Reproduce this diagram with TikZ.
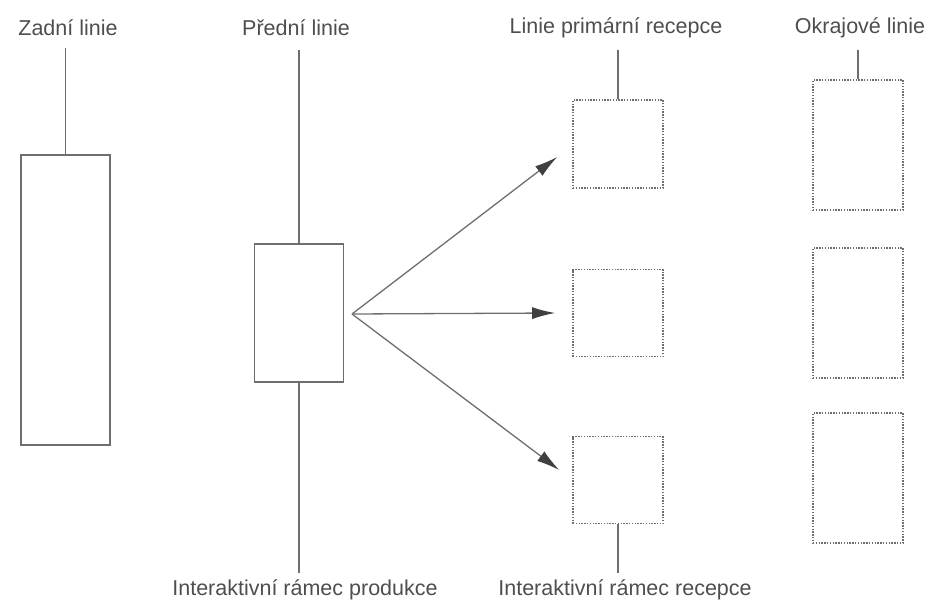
\documentclass[tikz,border=0pt]{standalone}
\usepackage{fontspec}
\setmainfont{Liberation Sans}
\usetikzlibrary{arrows.meta}
\definecolor{cara}{HTML}{6E6E6E}
\definecolor{hrot}{HTML}{404040}
\definecolor{pismo}{HTML}{4E4E4E}
\begin{document}
\begin{tikzpicture}[x=1pt, y=-1pt,
    ramec/.style={draw=cara, line width=1.3pt, inner sep=0pt, minimum width=89pt},
    tecky/.style={ramec, dash pattern=on 1.4pt off 1.4pt, line width=1.6pt, minimum width=90pt},
    popis/.style={text=pismo, inner sep=0pt, font=\fontsize{21.5}{25}\selectfont},
    spoj/.style={draw=cara, line width=1.3pt},
    sipka/.style={spoj, -{Latex[length=23pt, width=12pt, color=hrot]}}]
  \useasboundingbox (0,0) rectangle (925,604);
  % popisky nahore a dole
  \node[popis] (zadni) at (68,28) {Zadní linie};
  \node[popis] (predni) at (296,28) {Přední linie};
  \node[popis] (primarni) at (616,28) {Linie primární recepce};
  \node[popis] (okrajove) at (860,28) {Okrajové linie};
  \node[popis] (produkce) at (305,590) {Interaktivní rámec produkce};
  \node[popis] (recepce) at (625,590) {Interaktivní rámec recepce};
  % ramce
  \node[ramec, minimum height=290pt] (zadniBox) at (65.5,300) {};
  \node[ramec, minimum height=138pt] (predniBox) at (299,313) {};
  \foreach \y/\h/\n in {144/88/a, 313/87/b, 480/87/c}{
    \node[tecky, minimum height=\h pt] (prim\n) at (618,\y) {};
  }
  \foreach \y/\n in {145/a, 313/b, 478/c}{
    \node[tecky, minimum height=130pt] (okraj\n) at (858,\y) {};
  }
  % konce car
  \coordinate (zadniTop) at (65.5,48);
  \coordinate (predniTop) at (299,50);
  \coordinate (predniBot) at (299,573);
  \coordinate (primTop) at (618,50);
  \coordinate (primBot) at (618,573);
  \coordinate (okrajTop) at (858,50);
  \coordinate (zdroj) at (352,314);
  \path[spoj] (zadniTop) -- (zadniBox.north);
  \path[spoj] (predniTop) -- (predniBox.north);
  \path[spoj] (predniBox.south) -- (predniBot);
  \path[spoj] (primTop) -- (prima.north);
  \path[spoj] (primc.south) -- (primBot);
  \path[spoj] (okrajTop) -- (okraja.north);
  \path[sipka] (zdroj) -- ([xshift=-15pt, yshift=-13pt]prima.west);
  \path[sipka] (zdroj) -- ([xshift=-17pt]primb.west);
  \path[sipka] (zdroj) -- ([xshift=-13pt, yshift=10pt]primc.west);
\end{tikzpicture}
\end{document}
